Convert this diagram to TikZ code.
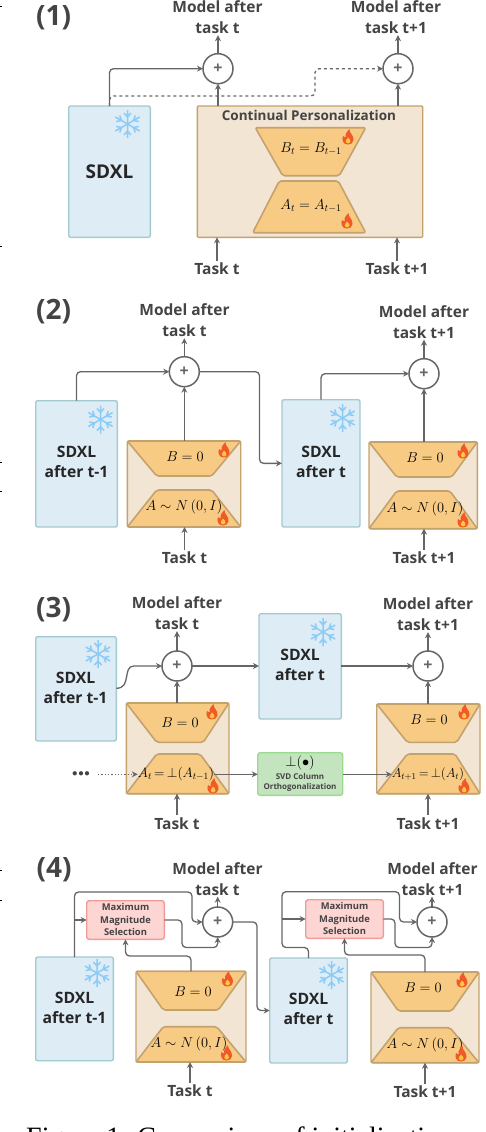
\documentclass[tikz,border=0pt]{standalone}
\usepackage{amsmath}
\usepackage{fontspec}
\setmainfont{Open Sans}
\newfontfamily\capfont{Liberation Serif}
\usetikzlibrary{positioning,fit,arrows.meta,calc}
\definecolor{ink}{RGB}{68,68,68}
\definecolor{wire}{RGB}{102,102,102}
\definecolor{softBlue}{RGB}{222,236,246}
\definecolor{edgeBlue}{RGB}{163,201,209}
\definecolor{softTan}{RGB}{242,229,211}
\definecolor{edgeTan}{RGB}{196,162,109}
\definecolor{softOrange}{RGB}{248,203,133}
\definecolor{softRed}{RGB}{253,213,211}
\definecolor{edgeRed}{RGB}{240,154,154}
\definecolor{softGreen}{RGB}{196,227,191}
\definecolor{edgeGreen}{RGB}{154,219,144}
\definecolor{flakeBlue}{RGB}{140,203,245}
\definecolor{flameRed}{RGB}{240,89,42}
\definecolor{flameCore}{RGB}{255,201,60}
\tikzset{
  frozen/.style={draw=edgeBlue,fill=softBlue,line width=1.4pt,rounded corners=2pt,inner sep=0pt,outer sep=0pt},
  lora/.style={draw=edgeTan,fill=softTan,line width=1.4pt,rounded corners=1pt,inner sep=0pt,outer sep=0pt},
  wedge/.style={draw=edgeTan,fill=softOrange,line width=1.6pt,rounded corners=2pt,line join=round},
  picker/.style={draw=edgeRed,fill=softRed,line width=1.4pt,rounded corners=2.5pt,inner sep=0pt,outer sep=0pt},
  svdbox/.style={draw=edgeGreen,fill=softGreen,line width=1.4pt,rounded corners=2.5pt,inner sep=0pt,outer sep=0pt},
  adder/.style={circle,draw=wire,fill=white,line width=1.5pt,minimum size=30pt,inner sep=0pt,outer sep=0pt,text=wire,font=\fontsize{16}{16}\selectfont\bfseries},
  conn/.style={-{Stealth[length=6pt,width=6pt]},draw=wire,line width=1.3pt,rounded corners=4pt},
  head/.style={align=center,text=ink,inner sep=1pt,font=\fontsize{15.5}{21}\selectfont\bfseries},
  tasklab/.style={text=ink,inner sep=2pt,font=\fontsize{15.5}{17}\selectfont\bfseries},
  panel/.style={text=ink,inner sep=0pt,font=\fontsize{28}{30}\selectfont\bfseries},
  sdxl/.style={align=center,text=black!85,inner sep=0pt,font=\fontsize{15.7}{20.5}\selectfont\bfseries},
  mlab/.style={inner sep=0pt,font=\fontsize{14.4}{16}\selectfont},
  smallm/.style={inner sep=0pt,font=\fontsize{14.4}{16}\selectfont,scale=.95},
  pickname/.style={align=center,text=ink,inner sep=0pt,font=\fontsize{9.4}{12.5}\selectfont\bfseries},
  flake/.pic={
    \foreach \a in {30,90,...,330}{
      \draw[flakeBlue,line width=1.5pt,rotate=\a] (0,0) -- (14,0) (7,0) -- (11,3.5) (7,0) -- (11,-3.5);
    }
  },
  fire/.pic={
    \fill[flameRed] (0,7.5) .. controls (-5,7.5) and (-6.5,3) .. (-5,-1) .. controls (-4.2,0) and (-3.5,0.5) .. (-2.5,0.5) .. controls (-3,-3) and (-1,-6) .. (1.5,-8) .. controls (1,-4) and (6,-2) .. (5.5,3) .. controls (5.3,6) and (3,7.5) .. (0,7.5) -- cycle;
    \fill[flameCore] (0,6.5) .. controls (-2.5,6.5) and (-3,4) .. (-1.5,2.5) .. controls (-1,1.8) and (-0.3,1.5) .. (0,0.5) .. controls (1,2) and (3,3) .. (2.5,5) .. controls (2.2,6) and (1,6.5) .. (0,6.5) -- cycle;
  },
}
\begin{document}
\begin{tikzpicture}[x=1pt,y=-1pt]
  \useasboundingbox (0,0) rectangle (486,1132);
  \foreach \y in {6,246,462.7,491.7,870,900}{ \fill[black] (0,\y-0.4) rectangle (1.5,\y+0.4); }

  \node[panel] (numA) at (53.5,18) {(1)};
  \node[head] (modelA) at (217.5,17.5) {Model after\\task t};
  \node[head] (modelB) at (396,17.5) {Model after\\task t+1};
  \node[adder] (plusA) at (218,68.7) {+};
  \node[adder] (plusB) at (398,68.7) {+};
  \node[frozen,fit={(68.7,106)(150.3,237.3)}] (sdxlA) {};
  \node[sdxl,font=\fontsize{19}{20}\selectfont\bfseries] (nameA) at (109.5,172) {SDXL};
  \pic at (127.5,124) {flake};
  \node[lora,fit={(197.3,106)(422.7,237.3)}] (capbox) {};
  \node[text=ink,inner sep=0pt,font=\fontsize{13.5}{15}\selectfont\bfseries] (capname) at (309,115) {Continual Personalization};
  \draw[wedge] (255.3,127.7) -- (365.7,127.7) -- (339.3,175.7) -- (282.7,175.7) -- cycle;
  \draw[wedge] (279.3,181) -- (338.3,181) -- (365.7,232.7) -- (252.7,232.7) -- cycle;
  \node[mlab] (labelA) at (311,149) {$B_t=B_{t-1}$};
  \node[mlab] (labelB) at (311,206) {$A_t=A_{t-1}$};
  \pic at (348,137) {fire};
  \pic at (347,221) {fire};
  \node[tasklab] (taskA) at (217,269) {Task t};
  \node[tasklab] (taskB) at (397,269) {Task t+1};
  \coordinate (bendA) at (315,96);
  \draw[conn] (sdxlA.north) |- (plusA.west);
  \draw[conn,dashed] (sdxlA.north) |- (bendA) |- (plusB.west);
  \draw[conn] (plusA |- capbox.north) -- (plusA.south);
  \draw[conn] (plusB |- capbox.north) -- (plusB.south);
  \draw[conn] (plusA.north) -- (plusA |- modelA.south);
  \draw[conn] (plusB.north) -- (plusB |- modelB.south);
  \draw[conn] (taskA.north) -- (taskA.north |- capbox.south);
  \draw[conn] (taskB.north) -- (taskB.north |- capbox.south);

  \node[panel] (numC) at (53.5,312) {(2)};
  \node[head] (modelC) at (184.5,320.5) {Model after\\task t};
  \node[head] (modelD) at (424,322) {Model after\\task t+1};
  \node[adder] (plusC) at (184.3,371.7) {+};
  \node[adder] (plusD) at (424,373.7) {+};
  \node[frozen,fit={(35.7,400.7)(117.3,527)}] (sdxlC) {};
  \node[sdxl] (nameC) at (76.5,462) {SDXL\\after t-1};
  \pic at (100.5,419.5) {flake};
  \node[frozen,fit={(282,399.7)(360,527)}] (sdxlD) {};
  \node[sdxl] (nameD) at (321,462) {SDXL\\after t};
  \pic at (342.5,418) {flake};
  \node[lora,fit={(127.3,441)(240.7,527)}] (blockC) {};
  \draw[wedge] (127.3,441) -- (240.7,441) -- (211.7,476) -- (156.7,476) -- cycle;
  \draw[wedge] (156.7,490) -- (211.7,490) -- (240.7,527) -- (127.3,527) -- cycle;
  \node[mlab] (labelC) at (185,456.5) {$B=0$};
  \node[mlab] (labelCC) at (184,507) {$A\sim N\,(0,I)$};
  \pic at (224,450) {fire};
  \pic at (223,518) {fire};
  \node[lora,fit={(369,442)(477.3,528.7)}] (blockD) {};
  \draw[wedge] (369,442) -- (477.3,442) -- (451.7,477) -- (396.7,477) -- cycle;
  \draw[wedge] (396.7,491) -- (450,491) -- (477.3,528.7) -- (369,528.7) -- cycle;
  \node[mlab] (labelD) at (425,458) {$B=0$};
  \node[mlab] (labelDD) at (425,509) {$A\sim N\,(0,I)$};
  \pic at (463,451) {fire};
  \pic at (463,520) {fire};
  \node[tasklab] (taskC) at (184.5,558) {Task t};
  \node[tasklab] (taskD) at (424,558) {Task t+1};
  \coordinate (turnC) at (259.5,463);
  \draw[conn] (sdxlC.north) |- (plusC.west);
  \draw[conn] (plusC.east) -| (turnC |- sdxlD.west) -- (sdxlD.west);
  \draw[conn] (sdxlD.north) |- (plusD.west);
  \draw[conn] (plusC |- blockC.north) -- (plusC.south);
  \draw[conn] (plusD |- blockD.north) -- (plusD.south);
  \draw[conn] (plusC.north) -- (plusC |- modelC.south);
  \draw[conn] (plusD.north) -- (plusD |- modelD.south);
  \draw[conn] (taskC.north) -- (taskC.north |- blockC.south);
  \draw[conn] (taskD.north) -- (taskD.north |- blockD.south);

  \node[panel] (numE) at (53.5,610) {(3)};
  \node[head] (modelE) at (177,613.5) {Model after\\task t};
  \node[head] (modelF) at (428,614.5) {Model after\\task t+1};
  \node[adder] (plusE) at (177,666) {+};
  \node[adder] (plusF) at (428,666) {+};
  \node[frozen,fit={(35.7,636.7)(116.3,741)}] (sdxlE) {};
  \node[sdxl] (nameE) at (75.5,688) {SDXL\\after t-1};
  \pic at (98,654) {flake};
  \node[frozen,fit={(259,613.7)(341.3,719)}] (sdxlF) {};
  \node[sdxl] (nameF) at (300,665) {SDXL\\after t};
  \pic at (323,632) {flake};
  \node[lora,fit={(126.3,703)(229,793.7)}] (blockE) {};
  \draw[wedge] (126.3,703) -- (229,703) -- (203.3,742.3) -- (156.7,742.3) -- cycle;
  \draw[wedge] (156.7,754) -- (200,754) -- (229,793.7) -- (126.3,793.7) -- cycle;
  \node[mlab] (labelE) at (180,723) {$B=0$};
  \node[smallm] (labelEE) at (176,774.3) {$A_t\,{=}\,{\perp}(A_{t-1})$};
  \pic at (212,712) {fire};
  \pic at (213,786) {fire};
  \node[lora,fit={(376.7,704)(480,793.7)}] (blockF) {};
  \draw[wedge] (376.7,704) -- (480,704) -- (456.7,742.3) -- (407.3,742.3) -- cycle;
  \draw[wedge] (407.3,754) -- (455,754) -- (480,793.7) -- (376.7,793.7) -- cycle;
  \node[mlab] (labelF) at (429,719.5) {$B=0$};
  \node[smallm,scale=.95] (labelFF) at (428,774.3) {$A_{t+1}\,{=}\,{\perp}(A_t)$};
  \pic at (464,712) {fire};
  \pic at (464,786) {fire};
  \node[svdbox,fit={(257.7,752.7)(342.7,795.3)}] (svdbox) {};
  \node[mlab] (svdsym) at (300,762.7) {${\perp}(\bullet)$};
  \node[align=center,text=ink,inner sep=0pt,font=\fontsize{8}{10}\selectfont\bfseries] (svdname) at (300,782) {SVD Column\\Orthogonalization};
  \node[inner sep=0pt,text=ink,font=\fontsize{11}{12}\selectfont\bfseries] (dotsE) at (81,774.3) {$\bullet\!\bullet\!\bullet$};
  \node[tasklab] (taskE) at (177,823.5) {Task t};
  \node[tasklab] (taskF) at (428,823.5) {Task t+1};
  \coordinate (outE) at (116.3,688.3);
  \draw[conn] (outE) .. controls (132,688.3) and (122,666) .. (138,666) -- (plusE.west);
  \draw[conn] (plusE.east) -- (sdxlF.west |- plusE);
  \draw[conn] (sdxlF.east |- plusF) -- (plusF.west);
  \draw[conn] (plusE |- blockE.north) -- (plusE.south);
  \draw[conn] (plusF |- blockF.north) -- (plusF.south);
  \draw[conn] (plusE.north) -- (plusE |- modelE.south);
  \draw[conn] (plusF.north) -- (plusF |- modelF.south);
  \draw[conn,dotted,shorten <=8pt] (dotsE.east) -- (labelEE.west);
  \draw[conn] (labelEE.east) -- (svdbox.west |- labelEE);
  \draw[conn] (svdbox.east |- labelFF) -- (labelFF.west);
  \draw[conn] (taskE.north) -- (taskE.north |- blockE.south);
  \draw[conn] (taskF.north) -- (taskF.north |- blockF.south);

  \node[panel] (numG) at (54,870) {(4)};
  \node[head] (modelG) at (217.5,879) {Model after\\task t};
  \node[head] (modelH) at (432.5,879) {Model after\\task t+1};
  \node[adder] (plusG) at (217.7,922) {+};
  \node[adder] (plusH) at (432,922) {+};
  \node[frozen,fit={(35.7,957)(113.3,1060.7)}] (sdxlG) {};
  \node[sdxl] (nameG) at (74.5,1008) {SDXL\\after t-1};
  \pic at (97,973) {flake};
  \node[frozen,fit={(269.7,958)(347.3,1063)}] (sdxlH) {};
  \node[sdxl] (nameH) at (308.5,1009) {SDXL\\after t};
  \pic at (331.5,975) {flake};
  \node[picker,fit={(86.7,900.7)(164.3,939.3)}] (mmsG) {};
  \node[pickname] (mmsnameG) at (125.5,919.5) {Maximum\\Magnitude\\Selection};
  \node[picker,fit={(305.7,899.7)(383.3,938.3)}] (mmsH) {};
  \node[pickname] (mmsnameH) at (344.5,918.5) {Maximum\\Magnitude\\Selection};
  \node[lora,fit={(136,971.3)(246,1062)}] (blockG) {};
  \draw[wedge] (136,971.3) -- (246,971.3) -- (218.3,1010) -- (163.3,1010) -- cycle;
  \draw[wedge] (163.3,1026.7) -- (216.7,1026.7) -- (246,1062) -- (136,1062) -- cycle;
  \node[mlab] (labelG) at (193,992) {$B=0$};
  \node[mlab] (labelGG) at (189,1044) {$A\sim N\,(0,I)$};
  \pic at (227.5,979) {fire};
  \pic at (226.5,1053) {fire};
  \node[lora,fit={(371,972)(479,1062.7)}] (blockH) {};
  \draw[wedge] (371,972) -- (479,972) -- (451.7,1011) -- (398.3,1011) -- cycle;
  \draw[wedge] (398.3,1027.7) -- (450,1027.7) -- (479,1062.7) -- (371,1062.7) -- cycle;
  \node[mlab] (labelH) at (423,988) {$B=0$};
  \node[mlab] (labelHH) at (425,1045) {$A\sim N\,(0,I)$};
  \pic at (462,980) {fire};
  \pic at (461,1054) {fire};
  \node[tasklab] (taskG) at (190,1091) {Task t};
  \node[tasklab] (taskH) at (425,1092) {Task t+1};
  \coordinate (turnG) at (192,892);
  \coordinate (mergeG) at (182,947.5);
  \coordinate (riseG) at (191,956);
  \coordinate (crossG) at (257,1010);
  \coordinate (turnH) at (282,947.5);
  \coordinate (overH) at (399.5,891.7);
  \coordinate (mergeH) at (395,947.5);
  \coordinate (riseH) at (425,955);
  \draw[conn] (sdxlG.north) |- (turnG) |- (plusG.west);
  \draw[conn] (sdxlG.north |- mmsG.west) -- (mmsG.west);
  \draw[conn] (mmsG.east) -| (mergeG) -| (plusG.south);
  \draw[conn] (blockG.north) -- (riseG) -| (mmsG.south);
  \draw[conn] (plusG.east) -| (crossG |- sdxlH.west) -- (sdxlH.west);
  \draw[conn] (sdxlH.north) |- (turnH) |- (overH) |- (plusH.west);
  \draw[conn] (turnH |- mmsH.west) -- (mmsH.west);
  \draw[conn] (mmsH.east) -| (mergeH) -| (plusH.south);
  \draw[conn] (blockH.north) -- (riseH) -| (mmsH.south);
  \draw[conn] (plusG.north) -- (plusG |- modelG.south);
  \draw[conn] (plusH.north) -- (plusH |- modelH.south);
  \draw[conn] (taskG.north) -- (taskG.north |- blockG.south);
  \draw[conn] (taskH.north) -- (taskH.north |- blockH.south);

  \node[anchor=base west,inner sep=0pt,font=\capfont\fontsize{28}{30}\selectfont] (caption) at (26,1146.5) {Figure 1: Comparison of initialization and};
\end{tikzpicture}
\end{document}
